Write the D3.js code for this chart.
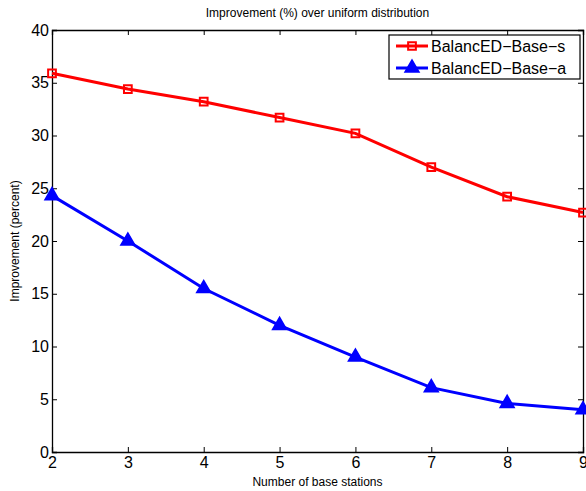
<!DOCTYPE html>
<html>
<head>
<meta charset="utf-8">
<script src="https://cdn.jsdelivr.net/npm/d3@7"></script>
<style>
  body { margin: 0; background: #fff; }
  svg { display: block; }
  text { font-family: "Liberation Sans", Arial, sans-serif; fill: #000; }
</style>
</head>
<body>
<div id="chart"></div>
<script>
// data ////////////////////////////////////////////
const stations = [2, 3, 4, 5, 6, 7, 8, 9];
const baseS = [35.9, 34.4, 33.2, 31.7, 30.2, 27.0, 24.2, 22.7];
const baseA = [24.3, 20.0, 15.5, 12.0, 9.0, 6.1, 4.6, 4.0];
const seriesNames = ["BalancED\u2212Base\u2212s", "BalancED\u2212Base\u2212a"];
const yTicks = [0, 5, 10, 15, 20, 25, 30, 35, 40];

const width = 586;
const height = 491;
const margin = { top: 30, right: 3, bottom: 39, left: 52 };

const svg = d3.select("#chart").append("svg")
  .attr("width", width)
  .attr("height", height);

const x = d3.scaleLinear().domain([2, 9]).range([margin.left, width - margin.right]);
const y = d3.scaleLinear().domain([0, 40]).range([height - margin.bottom, margin.top]);

// axes (ticks inside, mirrored) //////////////////
const tickLen = 5;
const g = svg.append("g");

const xAxis = d3.axisBottom(x).tickValues(stations).tickSize(-tickLen).tickPadding(5).tickFormat(d3.format("d"));
const yAxis = d3.axisLeft(y).tickValues(yTicks).tickSize(-tickLen).tickPadding(3);

g.append("g").attr("transform", `translate(0,${y(0)})`).call(xAxis)
  .call(a => a.selectAll("text").style("font-size", "16px"));
g.append("g").attr("transform", `translate(${x(2)},0)`).call(yAxis)
  .call(a => a.selectAll("text").style("font-size", "16px"));
g.append("g").attr("transform", `translate(0,${y(40)})`)
  .call(d3.axisTop(x).tickValues(stations).tickSize(-tickLen).tickFormat(""));
g.append("g").attr("transform", `translate(${x(9)},0)`)
  .call(d3.axisRight(y).tickValues(yTicks).tickSize(-tickLen).tickFormat(""));

g.selectAll(".domain").attr("stroke", "#000").attr("stroke-width", 1.3);
g.selectAll(".tick line").attr("stroke", "#000").attr("stroke-width", 1);
g.selectAll(".tick text").attr("fill", "#000");

// titles //////////////////////////////////////////
svg.append("text")
  .attr("x", (x(2) + x(9)) / 2).attr("y", 17)
  .attr("text-anchor", "middle").style("font-size", "12px")
  .text("Improvement (%) over uniform distribution");
svg.append("text")
  .attr("x", (x(2) + x(9)) / 2).attr("y", 486)
  .attr("text-anchor", "middle").style("font-size", "12px")
  .text("Number of base stations");
svg.append("text")
  .attr("transform", `translate(19,${(y(0) + y(40)) / 2}) rotate(-90)`)
  .attr("text-anchor", "middle").style("font-size", "12px")
  .text("Improvement (percent)");

// lines ///////////////////////////////////////////
const line = d3.line().x(d => x(d[0])).y(d => y(d[1]));
const series = [
  { name: seriesNames[0], values: baseS, color: "#ff0000", marker: d3.symbolSquare, size: 60 },
  { name: seriesNames[1], values: baseA, color: "#0000ff", marker: d3.symbolTriangle, size: 75 }
];

series.forEach(s => {
  const pts = stations.map((st, i) => [st, s.values[i]]);
  svg.append("path")
    .datum(pts)
    .attr("d", line)
    .attr("fill", "none")
    .attr("stroke", s.color)
    .attr("stroke-width", 3);
  svg.selectAll(null)
    .data(pts)
    .enter()
    .append("path")
    .attr("d", d3.symbol().type(s.marker).size(s.size))
    .attr("transform", d => `translate(${x(d[0])},${y(d[1])})`)
    .attr("fill", s.marker === d3.symbolSquare ? "none" : s.color)
    .attr("stroke", s.color)
    .attr("stroke-width", 2);
});

// legend //////////////////////////////////////////
const lg = svg.append("g");
lg.append("rect")
  .attr("x", 389).attr("y", 35).attr("width", 191).attr("height", 44)
  .attr("fill", "#fff").attr("stroke", "#000").attr("stroke-width", 1.2);
series.forEach((s, i) => {
  const ly = 46 + i * 22;
  lg.append("line")
    .attr("x1", 396).attr("x2", 428).attr("y1", ly).attr("y2", ly)
    .attr("stroke", s.color).attr("stroke-width", 3);
  lg.append("path")
    .attr("d", d3.symbol().type(s.marker).size(s.size))
    .attr("transform", `translate(412,${ly})`)
    .attr("fill", s.marker === d3.symbolSquare ? "none" : s.color)
    .attr("stroke", s.color).attr("stroke-width", 2);
  lg.append("text")
    .attr("x", 431).attr("y", ly + 5.5)
    .style("font-size", "16px")
    .text(s.name);
});
</script>
</body>
</html>
